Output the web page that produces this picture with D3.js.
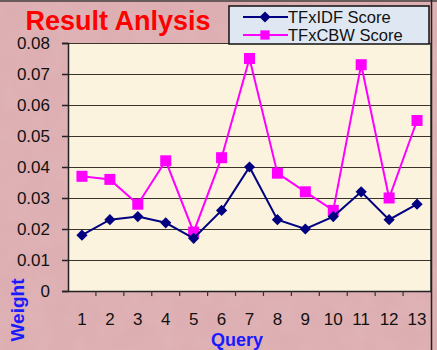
<!DOCTYPE html>
<html>
<head>
<meta charset="utf-8">
<script src="https://cdn.jsdelivr.net/npm/d3@7"></script>
<style>
  body { margin: 0; background: #d9a9ad; }
  svg { display: block; font-family: "Liberation Sans", Arial, sans-serif; }
</style>
</head>
<body>
<div id="chart"></div>
<script>
const queries = ["1", "2", "3", "4", "5", "6", "7", "8", "9", "10", "11", "12", "13"];
const tfidf = [0.018, 0.023, 0.024, 0.022, 0.017, 0.026, 0.040, 0.023, 0.020, 0.024, 0.032, 0.023, 0.028];
const tfcbw = [0.037, 0.036, 0.028, 0.042, 0.019, 0.043, 0.075, 0.038, 0.032, 0.026, 0.073, 0.030, 0.055];
const yTicks = [0, 0.01, 0.02, 0.03, 0.04, 0.05, 0.06, 0.07, 0.08];

const width = 437, height = 350;
const margin = { top: 43, right: 6, bottom: 59, left: 68 };

const svg = d3.select("#chart").append("svg")
  .attr("width", width).attr("height", height);

// page background with light marble texture
const defs = svg.append("defs");
const f = defs.append("filter").attr("id", "marble").attr("x", 0).attr("y", 0).attr("width", "100%").attr("height", "100%");
f.append("feTurbulence").attr("type", "fractalNoise").attr("baseFrequency", 0.04).attr("numOctaves", 3).attr("seed", 4);
f.append("feColorMatrix").attr("type", "matrix")
  .attr("values", "0 0 0 0 0.88  0 0 0 0 0.70  0 0 0 0 0.72  0 0 0 0.35 0");
svg.append("rect").attr("width", width).attr("height", height).attr("fill", "#dcacb0");
svg.append("rect").attr("width", width).attr("height", height).attr("filter", "url(#marble)").attr("opacity", 0.5);

// frame lines
svg.append("line").attr("x1", 0).attr("x2", width).attr("y1", 1).attr("y2", 1)
  .attr("stroke", "#6b5a5c").attr("stroke-width", 2);
svg.append("line").attr("x1", 431.5).attr("x2", 431.5).attr("y1", 0).attr("y2", height)
  .attr("stroke", "#222").attr("stroke-width", 1.5);

const x = d3.scaleBand().domain(queries).range([margin.left, width - margin.right]);
const y = d3.scaleLinear().domain([0, 0.08]).range([height - margin.bottom, margin.top]);

// plot area
svg.append("rect")
  .attr("x", x.range()[0]).attr("y", y(0.08))
  .attr("width", x.range()[1] - x.range()[0]).attr("height", y(0) - y(0.08))
  .attr("fill", "#fbf3de");

// gridlines
svg.append("g").selectAll("line").data(yTicks.slice(1)).join("line")
  .attr("x1", x.range()[0]).attr("x2", x.range()[1])
  .attr("y1", d => Math.round(y(d)) + 0.5).attr("y2", d => Math.round(y(d)) + 0.5)
  .attr("stroke", "#3a332c").attr("stroke-width", 1.2);

// y axis
const yAxis = svg.append("g")
  .attr("transform", `translate(${margin.left},0)`)
  .call(d3.axisLeft(y).tickValues(yTicks).tickSize(6).tickPadding(12).tickFormat(d => d === 0 ? "0" : d3.format(".2f")(d)));
yAxis.select(".domain").attr("stroke", "#222").attr("stroke-width", 1.5);
yAxis.selectAll(".tick line").attr("stroke", "#222").attr("stroke-width", 1.5);
yAxis.selectAll("text").attr("font-size", 17).attr("fill", "#111").attr("font-family", "Liberation Sans, Arial, sans-serif");

// x axis
const xAxis = svg.append("g")
  .attr("transform", `translate(0,${height - margin.bottom})`)
  .call(d3.axisBottom(x).tickSize(0).tickPadding(22));
xAxis.select(".domain").attr("stroke", "#222").attr("stroke-width", 1.5);
xAxis.selectAll("text").attr("font-size", 17).attr("fill", "#111").attr("font-family", "Liberation Sans, Arial, sans-serif");
xAxis.append("g").selectAll("line").data(queries.slice(1)).join("line")
  .attr("x1", d => x(d)).attr("x2", d => x(d)).attr("y1", 0).attr("y2", 5)
  .attr("stroke", "#333").attr("stroke-width", 1.2);

// right border of plot
svg.append("line").attr("x1", x.range()[1]).attr("x2", x.range()[1])
  .attr("y1", y(0.08)).attr("y2", y(0)).attr("stroke", "#222").attr("stroke-width", 1.5);

const cx = d => x(d) + x.bandwidth() / 2;
const line = d3.line().x(d => cx(d[0])).y(d => y(d[1]));

// TFxCBW series
const cbw = queries.map((q, i) => [q, tfcbw[i]]);
svg.append("path").datum(cbw).attr("d", line)
  .attr("fill", "none").attr("stroke", "#ff00ff").attr("stroke-width", 2);
svg.append("g").selectAll("rect").data(cbw).join("rect")
  .attr("x", d => cx(d[0]) - 5.5).attr("y", d => y(d[1]) - 5.5)
  .attr("width", 11).attr("height", 11).attr("fill", "#ff00ff");

// TFxIDF series
const idf = queries.map((q, i) => [q, tfidf[i]]);
svg.append("path").datum(idf).attr("d", line)
  .attr("fill", "none").attr("stroke", "#000080").attr("stroke-width", 2);
svg.append("g").selectAll("path").data(idf).join("path")
  .attr("d", d3.symbol(d3.symbolDiamond2, 80))
  .attr("transform", d => `translate(${cx(d[0])},${y(d[1])})`)
  .attr("fill", "#000080");

// title
svg.append("text").attr("x", 118).attr("y", 30).attr("text-anchor", "middle")
  .attr("font-size", 27).attr("font-weight", "bold").attr("fill", "#ff0000")
  .text("Result Anlysis");

// axis titles
svg.append("text").attr("x", 237).attr("y", 346).attr("text-anchor", "middle")
  .attr("font-size", 18).attr("font-weight", "bold").attr("fill", "#1a1aff")
  .text("Query");
svg.append("text").attr("transform", "translate(24,310) rotate(-90)").attr("text-anchor", "middle")
  .attr("font-size", 19).attr("font-weight", "bold").attr("fill", "#1a1aff")
  .text("Weight");

// legend
const legend = svg.append("g").attr("transform", "translate(229,6)");
legend.append("rect").attr("width", 200).attr("height", 38)
  .attr("fill", "#dfe8f2").attr("stroke", "#111").attr("stroke-width", 1.5);
const items = [
  { name: "TFxIDF Score", color: "#000080", shape: "diamond" },
  { name: "TFxCBW Score", color: "#ff00ff", shape: "square" }
];
const li = legend.selectAll("g").data(items).join("g")
  .attr("transform", (d, i) => `translate(0,${11 + i * 18})`);
li.append("line").attr("x1", 14).attr("x2", 59).attr("stroke", d => d.color).attr("stroke-width", 2);
li.append("path")
  .attr("d", d => d.shape === "diamond" ? d3.symbol(d3.symbolDiamond2, 80)() : d3.symbol(d3.symbolSquare2, 110)())
  .attr("transform", "translate(36,0)")
  .attr("fill", d => d.color);
li.append("text").attr("x", 59).attr("y", 6).attr("font-size", 16.5).attr("fill", "#111")
  .text(d => d.name);
</script>
</body>
</html>
